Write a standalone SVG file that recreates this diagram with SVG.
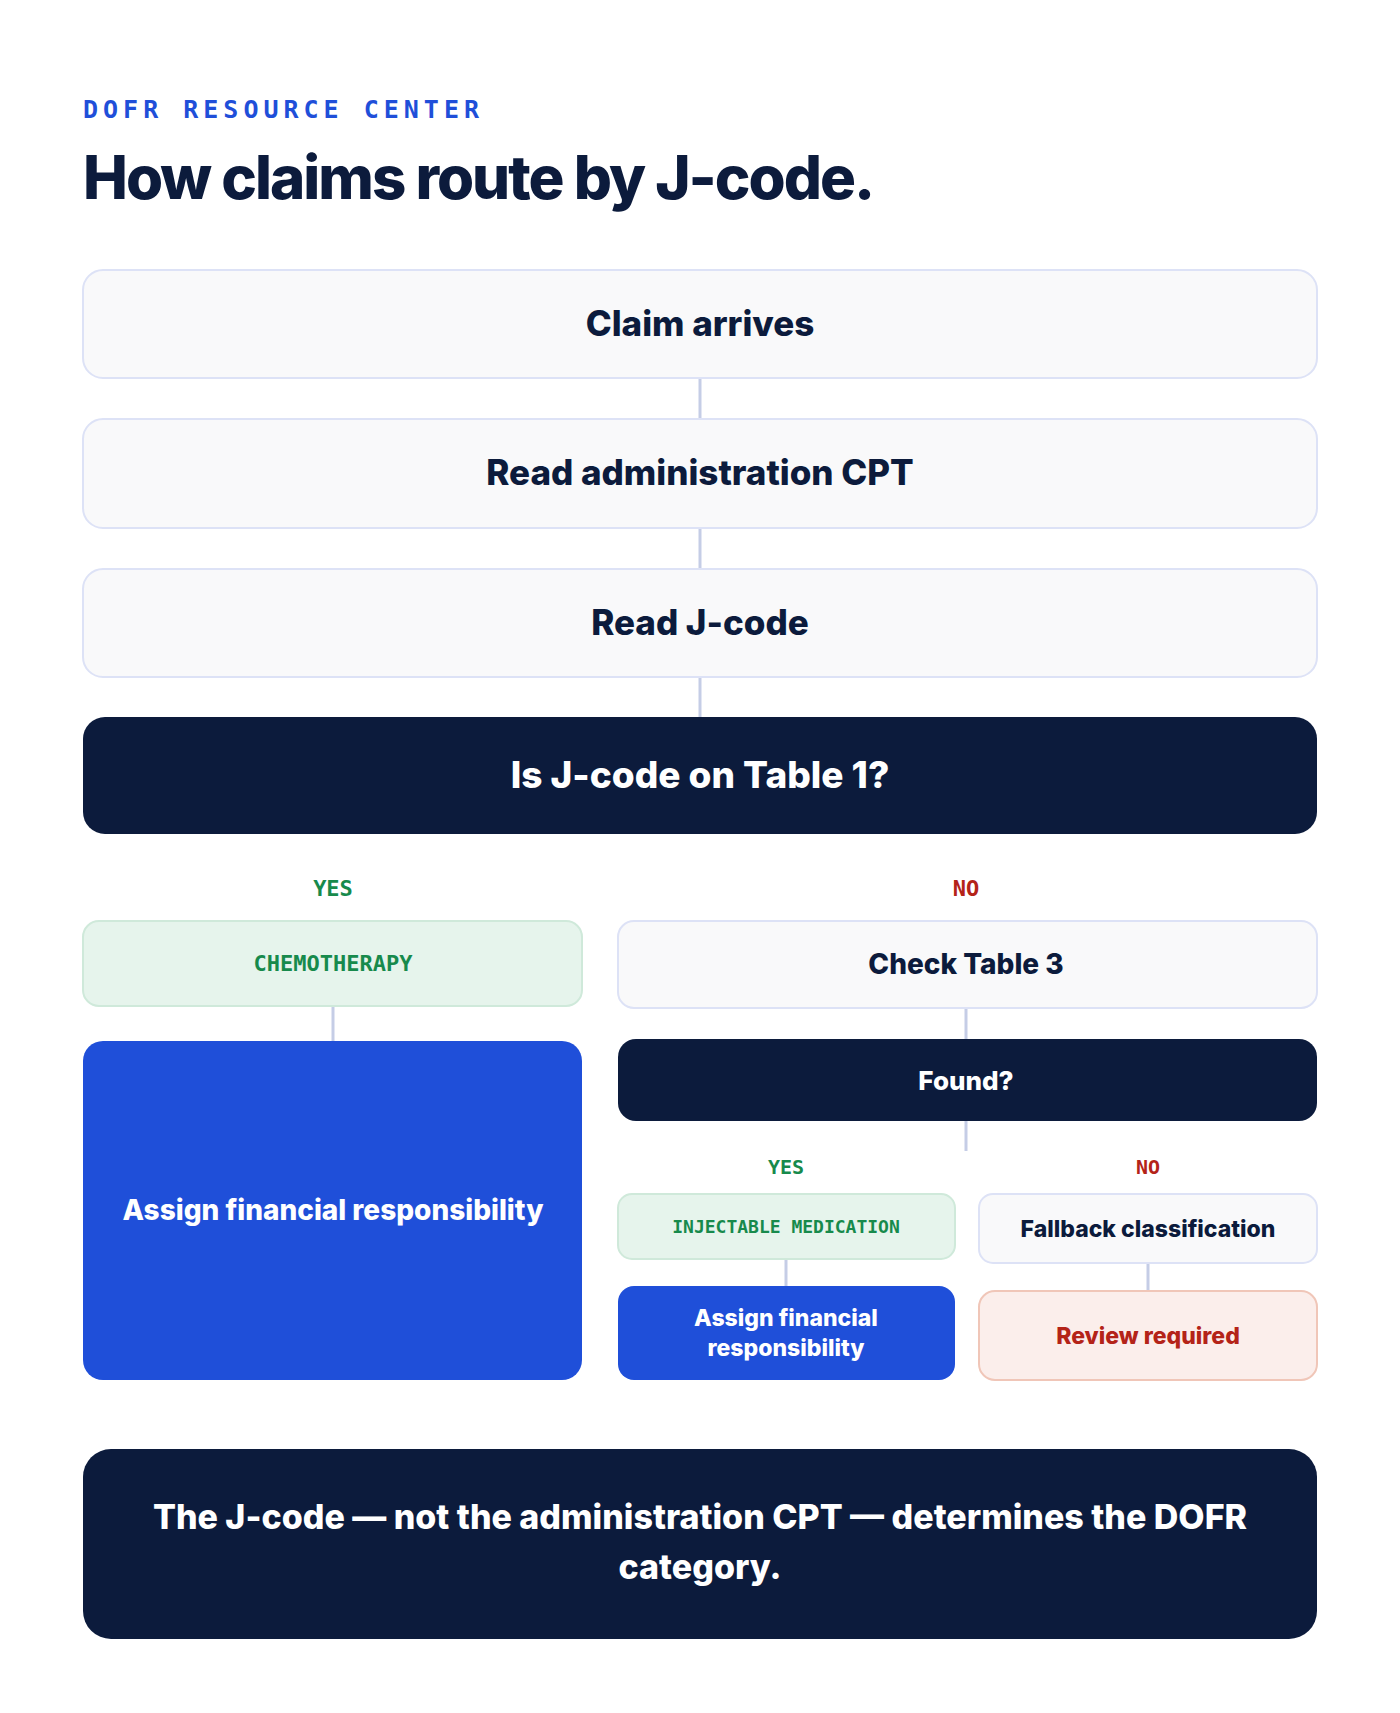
<svg xmlns="http://www.w3.org/2000/svg" width="1400" height="1713" viewBox="0 0 1400 1713">
<style>
.s{font-family:Inter,"Liberation Sans",sans-serif;font-weight:800;text-anchor:middle}
.m{font-family:"DejaVu Sans Mono","Liberation Mono",monospace;font-weight:bold;text-anchor:middle}
.lt{fill:#f9f9fa;stroke:#dde2f6;stroke-width:2}
.dk{fill:#0c1b3c}
.bl{fill:#1f4fd9}
.gr{fill:#e6f4ec;stroke:#cfe9da;stroke-width:2}
.ln{stroke:#c5cde6;stroke-width:3}
</style>
<rect width="1400" height="1713" fill="#fff"/>
<text x="83" y="118" font-family="DejaVu Sans Mono,monospace" font-weight="bold" font-size="25" letter-spacing="5" fill="#1f4fd9">DOFR RESOURCE CENTER</text>
<text x="83" y="199" font-family="Inter,'Liberation Sans',sans-serif" font-weight="800" font-size="60" letter-spacing="-2" fill="#0c1b3c">How claims route by J-code.</text>
<g id="connectors">
<line class="ln" x1="700" y1="378" x2="700" y2="419"/>
<line class="ln" x1="700" y1="528" x2="700" y2="569"/>
<line class="ln" x1="700" y1="677" x2="700" y2="717"/>
<line class="ln" x1="333" y1="1006" x2="333" y2="1041" stroke="#cfe9da"/>
<line class="ln" x1="966" y1="1008" x2="966" y2="1039"/>
<line class="ln" x1="966" y1="1121" x2="966" y2="1151"/>
<line class="ln" x1="786" y1="1259" x2="786" y2="1286" stroke="#cfe9da" stroke-width="2"/>
<line class="ln" x1="1148" y1="1263" x2="1148" y2="1291" stroke-width="2"/>
</g>
<g id="n1"><rect class="lt" x="83" y="270" width="1234" height="108" rx="20"/><text class="s" x="700" y="336" font-size="35" fill="#0c1b3c">Claim arrives</text></g>
<g id="n2"><rect class="lt" x="83" y="419" width="1234" height="109" rx="20"/><text class="s" x="700" y="485" font-size="35" fill="#0c1b3c">Read administration CPT</text></g>
<g id="n3"><rect class="lt" x="83" y="569" width="1234" height="108" rx="20"/><text class="s" x="700" y="635" font-size="35" fill="#0c1b3c">Read J-code</text></g>
<g id="n4"><rect class="dk" x="83" y="717" width="1234" height="117" rx="22"/><text class="s" x="700" y="788" font-size="37" fill="#fff">Is J-code on Table 1?</text></g>
<g id="l1"><text class="m" x="333" y="896" font-size="22" fill="#178a4c">YES</text><text class="m" x="966" y="896" font-size="22" fill="#b42318">NO</text></g>
<g id="n5"><rect class="gr" x="83" y="921" width="499" height="85" rx="16"/><text class="m" x="333" y="971" font-size="22" fill="#178a4c">CHEMOTHERAPY</text></g>
<g id="n6"><rect class="lt" x="618" y="921" width="699" height="87" rx="16"/><text class="s" x="966" y="974" font-size="28" fill="#0c1b3c">Check Table 3</text></g>
<g id="n7"><rect class="bl" x="83" y="1041" width="499" height="339" rx="20"/><text class="s" x="333" y="1220" font-size="28" fill="#fff">Assign financial responsibility</text></g>
<g id="n8"><rect class="dk" x="618" y="1039" width="699" height="82" rx="18"/><text class="s" x="966" y="1090" font-size="26" fill="#fff">Found?</text></g>
<g id="l2"><text class="m" x="786" y="1174" font-size="20" fill="#178a4c">YES</text><text class="m" x="1148" y="1174" font-size="20" fill="#b42318">NO</text></g>
<g id="n9"><rect class="gr" x="618" y="1194" width="337" height="65" rx="14"/><text class="m" x="786" y="1233" font-size="18" fill="#178a4c">INJECTABLE MEDICATION</text></g>
<g id="n10"><rect class="lt" x="979" y="1194" width="338" height="69" rx="14"/><text class="s" x="1148" y="1237" font-size="23" fill="#0c1b3c">Fallback classification</text></g>
<g id="n11"><rect class="bl" x="618" y="1286" width="337" height="94" rx="16"/><text class="s" x="786" y="1326" font-size="23" fill="#fff">Assign financial</text><text class="s" x="786" y="1356" font-size="23" fill="#fff">responsibility</text></g>
<g id="n12"><rect x="979" y="1291" width="338" height="89" rx="16" fill="#fbeeeb" stroke="#f0c6b8" stroke-width="2"/><text class="s" x="1148" y="1344" font-size="23" fill="#b42318">Review required</text></g>
<g id="n13"><rect class="dk" x="83" y="1449" width="1234" height="190" rx="28"/><text class="s" x="700" y="1529" font-size="34" fill="#fff">The J-code — not the administration CPT — determines the DOFR</text><text class="s" x="700" y="1579" font-size="34" fill="#fff">category.</text></g>
</svg>
